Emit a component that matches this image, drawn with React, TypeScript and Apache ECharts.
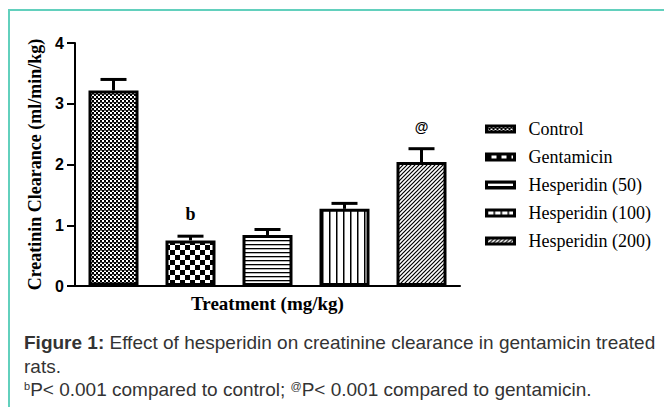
import React, { useEffect, useRef } from "react";
import * as echarts from "echarts";

const categories = ["Control", "Gentamicin", "Hesperidin (50)", "Hesperidin (100)", "Hesperidin (200)"];
const means = [3.22, 0.75, 0.84, 1.27, 2.04];
const errors = [0.18, 0.07, 0.09, 0.09, 0.22];
const marks = ["", "b", "", "", "@"];
const yTicks = [0, 1, 2, 3, 4];

function svgUrl(w: number, h: number, body: string) {
  const s = `<svg xmlns="http://www.w3.org/2000/svg" width="${w}" height="${h}">${body}</svg>`;
  return "data:image/svg+xml;charset=utf-8," + encodeURIComponent(s);
}

const patternDefs = [
  { w: 4, h: 4, body: '<rect width="4" height="4" fill="#fff"/><rect width="2" height="2" fill="#000"/><rect x="2" y="2" width="2" height="2" fill="#000"/><rect x="0" y="2" width="2" height="0.6" fill="#000"/>' },
  { w: 10, h: 10, body: '<rect width="10" height="10" fill="#fff"/><rect width="5" height="5" fill="#000"/><rect x="5" y="5" width="5" height="5" fill="#000"/>' },
  { w: 4, h: 4, body: '<rect width="4" height="4" fill="#fff"/><rect y="0" width="4" height="1.3" fill="#000"/>' },
  { w: 7, h: 4, body: '<rect width="7" height="4" fill="#fff"/><rect x="0" width="1.5" height="4" fill="#000"/>' },
  { w: 4, h: 4, body: '<rect width="4" height="4" fill="#fff"/><path d="M-1,5 L5,-1 M-1,1 L1,-1 M3,5 L5,3" stroke="#000" stroke-width="1.2" fill="none"/>' },
];

function pattern(i: number) {
  const p = patternDefs[i];
  return {
    image: svgUrl(p.w, p.h, p.body),
    repeat: "repeat",
    imageWidth: p.w,
    imageHeight: p.h,
  } as any;
}

export default function App() {
  const ref = useRef<HTMLDivElement>(null);
  useEffect(() => {
    document.body.style.margin = "0";
    if (!ref.current) return;
    const chart = echarts.init(ref.current, null, { renderer: "svg" });
    const barSeries = categories.map((name, i) => ({
      name,
      type: "bar",
      stack: "all",
      barWidth: 50,
      data: categories.map((_, j) => (j === i ? means[i] : "-")),
      itemStyle: { color: pattern(i), borderColor: "#000", borderWidth: 3 },
      z: 2,
    }));
    const errData = means.map((m, i) => [i, m, errors[i]]);
    chart.setOption({
      animation: false,
      grid: { left: 75, right: 204, top: 43, bottom: 121 },
      xAxis: {
        type: "category",
        data: categories,
        axisLine: { lineStyle: { color: "#000", width: 2 } },
        axisTick: { show: false },
        axisLabel: { show: false },
        name: "Treatment (mg/kg)",
        nameLocation: "middle",
        nameGap: 8,
        nameTextStyle: { fontFamily: "Liberation Serif", fontWeight: "bold", fontSize: 19, color: "#000", verticalAlign: "top" },
      },
      yAxis: {
        type: "value",
        min: yTicks[0],
        max: yTicks[yTicks.length - 1],
        interval: 1,
        splitLine: { show: false },
        axisLine: { show: true, lineStyle: { color: "#000", width: 2 } },
        axisTick: { show: true, length: 8, lineStyle: { color: "#000", width: 2 } },
        axisLabel: { margin: 11, fontFamily: "Liberation Sans", fontWeight: "bold", fontSize: 16, color: "#000" },
        name: "Creatinin Clearance (ml/min/kg)",
        nameLocation: "middle",
        nameGap: 27,
        nameTextStyle: { fontFamily: "Liberation Serif", fontWeight: "bold", fontSize: 18, color: "#000" },
      },
      legend: {
        orient: "vertical",
        left: 485,
        top: 119,
        padding: 0,
        itemWidth: 28,
        itemHeight: 6,
        itemGap: 8,
        icon: "rect",
        data: categories,
        textStyle: { fontFamily: "Liberation Serif", fontSize: 18, color: "#000", lineHeight: 20, padding: [0, 0, 0, 9] },
        itemStyle: { borderColor: "#000", borderWidth: 3 },
      },
      series: [
        ...barSeries,
        {
          type: "custom",
          name: "err",
          z: 3,
          data: errData,
          encode: { x: 0, y: [1, 2] },
          renderItem: (params: any, api: any) => {
            const x = api.value(0);
            const v = api.value(1);
            const e = api.value(2);
            const base = api.coord([x, v]);
            const top = api.coord([x, v + e]);
            const children: any[] = [
              { type: "line", shape: { x1: base[0], y1: base[1], x2: top[0], y2: top[1] }, style: { stroke: "#000", lineWidth: 3 } },
              { type: "line", shape: { x1: top[0] - 13, y1: top[1], x2: top[0] + 13, y2: top[1] }, style: { stroke: "#000", lineWidth: 3 } },
            ];
            const m = marks[params.dataIndex];
            if (m) {
              children.push({
                type: "text",
                x: top[0],
                y: top[1] - 22,
                style: {
                  text: m,
                  fill: "#000",
                  fontFamily: m === "@" ? "Liberation Sans" : "Liberation Serif",
                  fontWeight: "bold",
                  fontSize: m === "@" ? 14 : 18,
                  align: "center",
                  verticalAlign: "middle",
                },
              });
            }
            return { type: "group", children };
          },
        },
      ],
    });
    return () => chart.dispose();
  }, []);

  const supStyle: React.CSSProperties = { fontSize: 11, verticalAlign: "6px", lineHeight: 0 };

  return (
    <div style={{ position: "relative", width: 664, height: 407, overflow: "hidden", background: "#fff" }}>
      <div
        style={{
          position: "absolute",
          left: 8,
          top: 9,
          width: 720,
          height: 460,
          borderLeft: "2px solid #62d0bd",
          borderTop: "2px solid #62d0bd",
        }}
      />
      <div ref={ref} style={{ position: "absolute", left: 0, top: 0, width: 664, height: 407 }} />
      <div
        style={{
          position: "absolute",
          left: 24,
          top: 331,
          width: 640,
          fontFamily: "'Liberation Sans', Arial, sans-serif",
          fontSize: 19,
          lineHeight: "23.5px",
          color: "#333",
          whiteSpace: "nowrap",
        }}
      >
        <b>Figure 1:</b> Effect of hesperidin on creatinine clearance in gentamicin treated
        <br />
        rats.
        <br />
        <sup style={supStyle}>b</sup>P&lt; 0.001 compared to control; <sup style={supStyle}>@</sup>P&lt; 0.001 compared to gentamicin.
      </div>
    </div>
  );
}
